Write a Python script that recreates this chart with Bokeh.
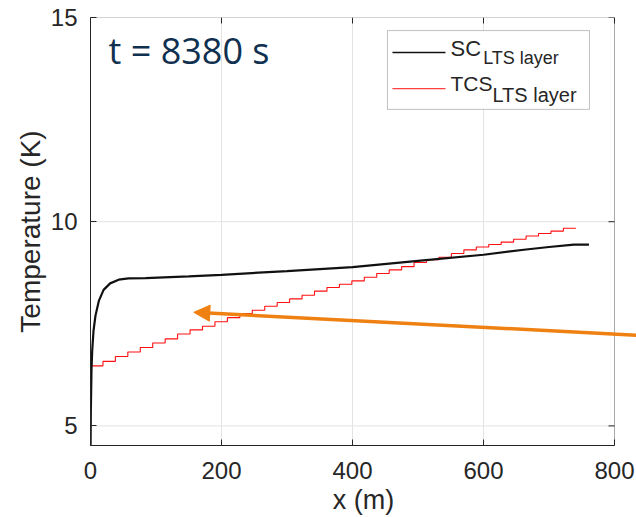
from bokeh.plotting import figure
from bokeh.models import Range1d, FixedTicker, BoxAnnotation, Arrow, NormalHead
from bokeh.core.properties import value
from bokeh.embed import file_html
from bokeh.resources import INLINE

# ---------------- data ----------------
sc_x = [0, 0.5, 1.5, 2.6, 4.6, 7.6, 12.7, 20, 30, 43, 58, 84, 150, 200, 300,
        400, 500, 600, 665, 700, 738, 761]
sc_t = [4.3, 5.37, 6.35, 6.84, 7.33, 7.70, 8.06, 8.33, 8.49, 8.58, 8.61, 8.62,
        8.66, 8.70, 8.79, 8.89, 9.04, 9.19, 9.32, 9.38, 9.44, 9.44]

tcs_edges = [0, 19, 38, 57, 76, 95, 114, 133, 152, 171, 190, 209, 228, 247, 266,
             285, 304, 323, 342, 361, 380, 399, 418, 437, 456, 475, 494, 513,
             532, 551, 570, 589, 608, 627, 646, 665, 684, 703, 722, 741]
tcs_levels = [6.47, 6.58, 6.70, 6.81, 6.92, 7.03, 7.13, 7.25, 7.35, 7.44, 7.55,
              7.65, 7.75, 7.83, 7.93, 8.02, 8.11, 8.20, 8.30, 8.39, 8.47, 8.55,
              8.64, 8.73, 8.82, 8.90, 9.00, 9.07, 9.13, 9.22, 9.31, 9.38, 9.44,
              9.50, 9.57, 9.65, 9.71, 9.77, 9.84]

x_ticks = [0, 200, 400, 600, 800]
y_ticks = [5, 10, 15]
x_min, x_max = 0, 800
y_min, y_max = 4.52, 15
x_label = "x (m)"
y_label = "Temperature (K)"
time_text = "t = 8380 s"
sc_name, tcs_name, layer_sub = "SC", "TCS", "LTS layer"

arrow_tip_x, arrow_tip_y = 157.7, 7.78
arrow_tail_x, arrow_tail_y = 833.6, 7.22

# ---------------- styling ----------------
FONT = "Liberation Sans"
AX = "#262626"
ORANGE = "#ef8012"
GRID = "#e3e3e3"
PX_X = 0.655    # px per metre
PX_Y = 40.84    # px per kelvin
TICK = 6        # tick length, px

# the canvas extends past x=800 so the orange arrow can run to the right edge
p = figure(width=636, height=517, output_backend="svg", toolbar_location=None,
           x_range=Range1d(x_min, x_min + 546 / PX_X), y_range=Range1d(y_min, y_max),
           min_border_left=90, min_border_right=0, min_border_top=17, min_border_bottom=72,
           background_fill_color="white", border_fill_color="white")
p.outline_line_color = None

for ax in (p.xaxis[0], p.yaxis[0]):
    ax.axis_line_color = AX
    ax.axis_line_width = 1
    ax.major_tick_line_color = AX
    ax.major_tick_in = TICK
    ax.major_tick_out = 0
    ax.minor_tick_line_color = None
    ax.major_label_text_font = FONT
    ax.major_label_text_font_size = "24px"
    ax.major_label_text_color = AX
    ax.axis_label_text_font = FONT
    ax.axis_label_text_font_size = "27px"
    ax.axis_label_text_font_style = "normal"
    ax.axis_label_text_color = AX

p.xaxis[0].ticker = FixedTicker(ticks=x_ticks)
p.xaxis[0].bounds = (x_min, x_max)
p.yaxis[0].ticker = FixedTicker(ticks=y_ticks)
p.xaxis[0].axis_label = x_label
p.yaxis[0].axis_label = y_label
p.yaxis[0].axis_label_text_font_size = "28px"
p.xaxis[0].major_label_standoff = 16
p.yaxis[0].major_label_standoff = 13
p.xaxis[0].axis_label_standoff = 3
p.yaxis[0].axis_label_standoff = 2

# grid (vertical via Grid, horizontal limited to the axes box)
p.xgrid.ticker = FixedTicker(ticks=x_ticks)
p.xgrid.grid_line_color = GRID
p.ygrid.grid_line_color = None
p.segment(x0=[x_min] * len(y_ticks), y0=y_ticks, x1=[x_max] * len(y_ticks), y1=y_ticks,
          line_color=GRID, line_width=1, level="underlay")

# axes box with inward ticks on top and right
p.add_layout(BoxAnnotation(left=x_min, right=x_max, bottom=y_min, top=y_max,
                           fill_alpha=0, line_color=AX, line_width=1))
p.segment(x0=x_ticks, y0=[y_max] * len(x_ticks), x1=x_ticks,
          y1=[y_max - TICK / PX_Y] * len(x_ticks), line_color=AX, line_width=1)
p.segment(x0=[x_max] * len(y_ticks), y0=y_ticks, x1=[x_max - TICK / PX_X] * len(y_ticks),
          y1=y_ticks, line_color=AX, line_width=1)

# ---------------- series ----------------
p.step(x=tcs_edges, y=tcs_levels + [tcs_levels[-1]], mode="after",
       line_color="#ff1010", line_width=1.1)
p.line(x=sc_x, y=sc_t, line_color="#111111", line_width=2.2)

# ---------------- legend (manual, with subscripts) ----------------
lg_left, lg_right, lg_top, lg_bottom = 453.4, 761.8, 14.68, 12.75
p.add_layout(BoxAnnotation(left=lg_left, right=lg_right, top=lg_top, bottom=lg_bottom,
                           fill_color="white", fill_alpha=1.0,
                           line_color="#333333", line_width=1, level="underlay"))
p.line(x=[461, 542], y=[14.14, 14.14], line_color="#111111", line_width=1.5)
p.line(x=[461, 542], y=[13.26, 13.26], line_color="#ff4040", line_width=1.2)

def txt(x, y, text, size, color=AX, font=FONT):
    # y is the vertical centre of the capitals
    p.text(x=[x], y=[y], text=[text], text_font=value(font), text_font_size=value(size),
           text_color=color, text_baseline="middle", text_align="left")

txt(549.6, 14.24, sc_name, "22px")
txt(599.5, 14.00, layer_sub, "18px")
txt(549.6, 13.38, tcs_name, "21px")
txt(613.7, 13.11, layer_sub, "20px")

# ---------------- annotations ----------------
txt(27.5, 14.19, time_text, "36px", color="#103050", font="Open Sans")

p.add_layout(Arrow(end=NormalHead(size=16, fill_color=ORANGE, line_color=ORANGE),
                   x_start=arrow_tail_x, y_start=arrow_tail_y,
                   x_end=arrow_tip_x, y_end=arrow_tip_y,
                   line_color=ORANGE, line_width=3.5))

open("out.html", "w").write(file_html(p, INLINE))
